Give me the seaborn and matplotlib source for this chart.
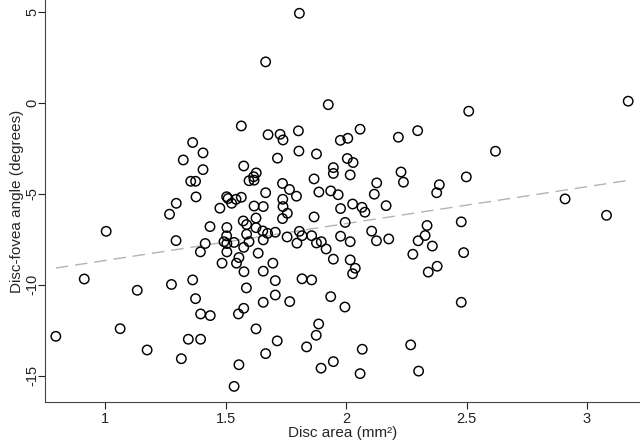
import numpy as np
import pandas as pd
import matplotlib
matplotlib.use("Agg")
import matplotlib.pyplot as plt
import seaborn as sns

# disc area (mm^2) and disc-fovea angle (degrees)
disc_area = [
    1.806, 1.666, 1.926, 3.171, 2.509, 1.565, 1.676, 1.726, 1.738, 1.802,
    1.976, 2.007, 2.058, 2.217, 2.297, 1.363, 1.406, 1.324, 1.406, 1.355,
    1.375, 1.377, 1.575, 1.627, 1.616, 1.597, 1.618, 1.715, 1.804, 1.877,
    2.005, 2.029, 1.947, 1.947, 2.017, 2.228, 2.238, 1.867, 2.127, 1.736,
    1.765, 1.666, 1.794, 1.887, 1.936, 1.967, 2.117, 2.620, 2.499, 2.387,
    2.376, 1.504, 1.510, 1.543, 1.565, 1.737, 2.909, 1.295, 1.267, 1.525,
    1.476, 1.618, 1.656, 1.738, 1.756, 1.736, 1.626, 1.435, 1.505, 1.573,
    1.587, 1.626, 1.654, 1.674, 1.706, 1.504, 1.587, 1.294, 1.415, 1.493,
    1.505, 1.535, 1.597, 1.656, 1.755, 1.806, 1.817, 1.796, 1.575, 1.395,
    1.505, 1.635, 1.555, 1.545, 1.485, 1.696, 1.576, 1.656, 1.363, 1.275,
    1.586, 1.706, 1.977, 2.027, 2.066, 2.078, 2.166, 1.867, 1.996, 2.106,
    1.857, 1.877, 1.897, 1.977, 2.017, 2.126, 2.177, 1.917, 1.947, 2.017,
    2.038, 2.027, 1.817, 1.857, 2.336, 2.328, 2.299, 2.358, 2.277, 2.341,
    2.378, 3.081, 2.478, 2.488, 2.478, 1.004, 0.913, 0.795, 1.133, 1.375,
    1.396, 1.436, 1.553, 1.062, 1.345, 1.396, 1.174, 1.316, 1.706, 1.656,
    1.766, 1.936, 1.995, 1.575, 1.626, 1.886, 1.876, 1.714, 1.836, 1.666,
    2.067, 2.268, 1.947, 1.896, 1.555, 2.058, 2.301, 1.535,
]
angle = [
    4.91, 2.24, -0.11, 0.08, -0.47, -1.28, -1.76, -1.74, -2.05, -1.55,
    -2.07, -1.96, -1.46, -1.90, -1.54, -2.19, -2.76, -3.15, -3.68, -4.32,
    -4.32, -5.18, -3.48, -3.86, -4.07, -4.29, -4.26, -3.05, -2.66, -2.82,
    -3.07, -3.29, -3.57, -3.89, -3.97, -3.81, -4.37, -4.19, -4.41, -4.44,
    -4.77, -4.95, -5.14, -4.91, -4.85, -5.06, -5.03, -2.67, -4.08, -4.51,
    -4.95, -5.17, -5.27, -5.31, -5.20, -5.31, -5.29, -5.53, -6.13, -5.53,
    -5.80, -5.68, -5.71, -5.71, -6.08, -6.37, -6.34, -6.81, -6.86, -6.50,
    -6.70, -6.87, -7.05, -7.18, -7.12, -7.32, -7.23, -7.58, -7.74, -7.64,
    -7.74, -7.68, -7.64, -7.54, -7.38, -7.07, -7.31, -7.72, -7.95, -8.20,
    -8.20, -8.27, -8.51, -8.82, -8.82, -8.82, -9.29, -9.26, -9.74, -9.99,
    -10.18, -9.78, -5.82, -5.57, -5.75, -6.02, -5.66, -6.28, -6.58, -7.06,
    -7.31, -7.71, -7.64, -7.34, -7.64, -7.59, -7.49, -8.04, -8.60, -8.64,
    -9.10, -9.40, -9.68, -9.74, -6.75, -7.30, -7.59, -7.88, -8.33, -9.31,
    -8.99, -6.19, -6.55, -8.24, -10.97, -7.07, -9.69, -12.84, -10.31, -10.77,
    -11.61, -11.70, -11.61, -12.42, -13.00, -13.00, -13.59, -14.07, -10.57, -10.97,
    -10.93, -10.66, -11.23, -11.30, -12.43, -12.16, -12.78, -13.09, -13.42, -13.79,
    -13.55, -13.31, -14.23, -14.59, -14.40, -14.89, -14.75, -15.59,
]
x_ticks = [1, 1.5, 2, 2.5, 3]
y_ticks = [5, 0, -5, -10, -15]

df = pd.DataFrame({"area": disc_area, "angle": angle})

sns.set_style("ticks")
plt.rcParams["font.family"] = ["Liberation Sans", "DejaVu Sans"]

fig = plt.figure(figsize=(6.4, 4.44), dpi=100)
ax = fig.add_axes([0.0703, 0.0937, 0.9297, 0.9063])

# fitted line, dashed light grey
sns.regplot(data=df, x="area", y="angle", ax=ax, ci=None, scatter=False,
            line_kws=dict(color="#b3b3b3", lw=1.0, dashes=(9, 5)))
sns.scatterplot(data=df, x="area", y="angle", ax=ax, s=46,
                facecolor="none", edgecolor="black", linewidth=1.05, zorder=3)

ax.set_xlim(0.75, 3.22)
ax.set_ylim(-16.47, 5.64)
ax.set_xticks(x_ticks)
ax.set_xticklabels([f"{t:g}" for t in x_ticks])
ax.set_yticks(y_ticks)
ax.set_yticklabels([f"{t:g}" for t in y_ticks])
ax.tick_params(direction="out", length=5, width=0.8, labelsize=10.5,
               colors="#222222")
ax.tick_params(axis="x", pad=2)
ax.tick_params(axis="y", pad=1)
for lab in ax.get_yticklabels():
    lab.set_rotation(90)
    lab.set_rotation_mode("anchor")
    lab.set_ha("center")
    lab.set_va("baseline")
sns.despine(ax=ax)
for s in ["left", "bottom"]:
    ax.spines[s].set_color("#444444")
    ax.spines[s].set_linewidth(0.8)

ax.set_xlabel("Disc area (mm²)", fontsize=11, labelpad=0)
ax.set_ylabel("Disc-fovea angle (degrees)", fontsize=11, labelpad=1)

fig.savefig("out.png", dpi=100)
